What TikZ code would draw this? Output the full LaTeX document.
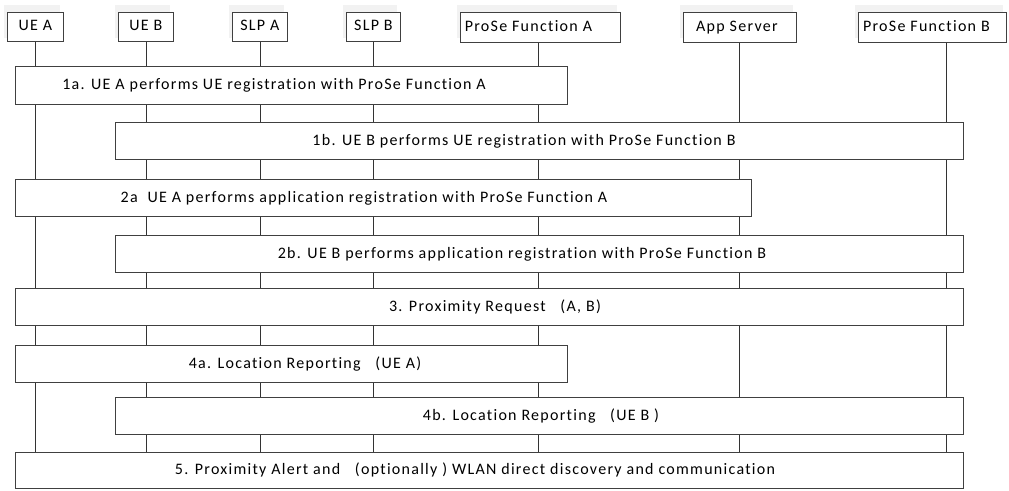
\documentclass[tikz,border=0pt]{standalone}
\usepackage{fontspec}
\setmainfont{Carlito}[Ligatures=NoCommon,LetterSpace=8]
\begin{document}
\begin{tikzpicture}[x=1pt,y=-1pt,
  hdr/.style={draw=black!75,fill=white,line width=0.8pt,anchor=north west,inner sep=0pt,text height=11pt,text depth=3pt,font=\fontsize{16}{18}\selectfont},
  shade/.style={fill=black!5,draw=none},
  stepbox/.style={draw=black!75,fill=white,line width=0.8pt,anchor=north west,inner sep=0pt},
  steptext/.style={font=\fontsize{16}{18}\selectfont,inner sep=0pt},
  life/.style={draw=black!80,line width=0.8pt}]
\useasboundingbox (0,0) rectangle (1009,490);
% header shadows
\foreach \a/\c in {7/63,118/173,232/287,346/400,460/620,683/796,858/1006}
  \fill[shade] (\a-3,5) rectangle (\c-3,38);
% headers
\node[hdr,minimum width=56pt,minimum height=29pt] (uea) at (7,12) {UE A};
\node[hdr,minimum width=55pt,minimum height=29pt] (ueb) at (118,12) {UE B};
\node[hdr,minimum width=55pt,minimum height=29pt] (slpa) at (232,12) {SLP A};
\node[hdr,minimum width=54pt,minimum height=29pt] (slpb) at (346,12) {SLP B};
\node[hdr,minimum width=160pt,minimum height=30pt] (pfa) at (460,12) {\hspace*{-24pt}ProSe Function A};
\node[hdr,minimum width=113pt,minimum height=30pt] (app) at (683,12) {\hspace*{-6pt}App Server};
\node[hdr,minimum width=148pt,minimum height=30pt] (pfb) at (858,12) {\hspace*{-12pt}ProSe Function B};
\coordinate (end5) at (0,452);
% lifelines
\draw[life] (uea.south) -- (uea.south |- end5);
\draw[life] (ueb.south) -- (ueb.south |- end5);
\draw[life] (slpa.south) -- (slpa.south |- end5);
\draw[life] (slpb.south) -- (slpb.south |- end5);
\draw[life] (pfa.south) ++(-2,0) coordinate (pa) -- (pa |- end5);
\draw[life] (app.south) ++(-0.5,0) coordinate (ap) -- (ap |- end5);
\draw[life] (pfb.south) ++(14,0) coordinate (pb) -- (pb |- end5);
% boxes
\node[stepbox,minimum width=552pt,minimum height=38pt] (b1a) at (15,66) {};
\node[steptext] (t1a) at (274,85) {1a. UE A performs UE registration with ProSe Function A};
\node[stepbox,minimum width=848pt,minimum height=37pt] (b1b) at (115,122) {};
\node[steptext] (t1b) at (524,141) {1b. UE B performs UE registration with ProSe Function B};
\node[stepbox,minimum width=736pt,minimum height=37pt] (b2a) at (15,179) {};
\node[steptext] (t2a) at (364,198) {2a\ \ UE A performs application registration with ProSe Function A};
\node[stepbox,minimum width=848pt,minimum height=37pt] (b2b) at (115,235) {};
\node[steptext] (t2b) at (522,254) {2b. UE B performs application registration with ProSe Function B};
\node[stepbox,minimum width=948pt,minimum height=37pt] (b3) at (15,288) {};
\node[steptext] (t3) at (495,307) {3. Proximity Request \ \ (A, B)};
\node[stepbox,minimum width=552pt,minimum height=37pt] (b4a) at (15,345) {};
\node[steptext] (t4a) at (305,364) {4a. Location Reporting \ \ (UE A)};
\node[stepbox,minimum width=848pt,minimum height=37pt] (b4b) at (115,397) {};
\node[steptext] (t4b) at (541,416) {4b. Location Reporting \ \ (UE B )};
\node[stepbox,minimum width=948pt,minimum height=36pt] (b5) at (15,452) {};
\node[steptext] (t5) at (475,470) {5. Proximity Alert and \ \ (optionally ) WLAN direct discovery and communication};
\end{tikzpicture}
\end{document}
